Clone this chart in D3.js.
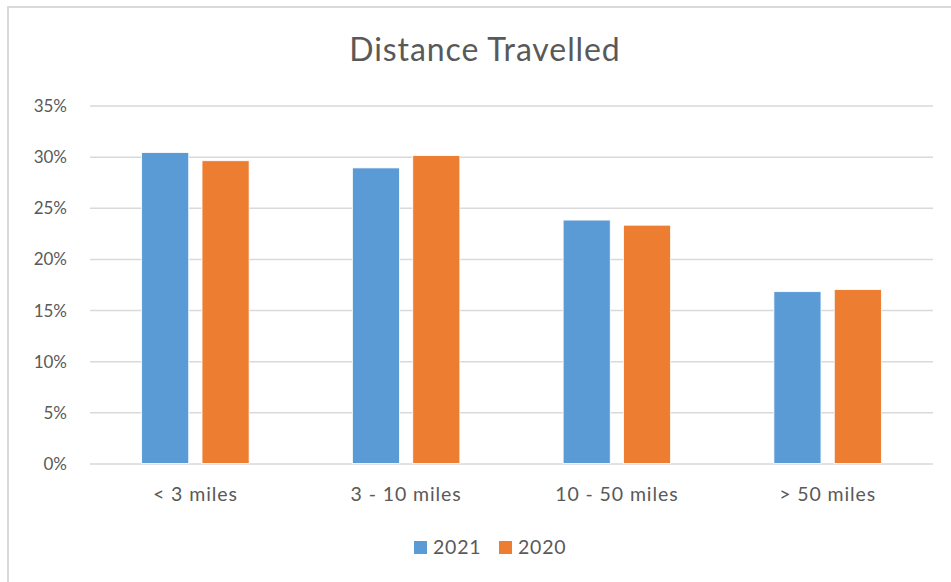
<!DOCTYPE html>
<html>
<head>
<meta charset="utf-8">
<script src="https://cdn.jsdelivr.net/npm/d3@7"></script>
<style>
  body { margin: 0; background: #fff; }
  text { font-family: Lato, "Open Sans", sans-serif; fill: #595959; }
</style>
</head>
<body>
<script>
// chart data
let categories = ["< 3 miles", "3 - 10 miles", "10 - 50 miles", "> 50 miles"];
let seriesNames = ["2021", "2020"];
let values2021 = [30.4, 28.9, 23.8, 16.8];
let values2020 = [29.6, 30.1, 23.3, 17.0];
let yTicks = [0, 5, 10, 15, 20, 25, 30, 35];
let colors = ["#5B9BD5", "#ED7D31"];

let width = 951;
let height = 582;
let margin = { top: 105.5, left: 90, right: 18, bottom: 118.5 };

let svg = d3.select("body")
    .append("svg")
    .attr("width", width)
    .attr("height", height);

// chart frame
svg.append("rect")
    .attr("x", 8).attr("y", 7)
    .attr("width", 1000).attr("height", 1000)
    .attr("fill", "none")
    .attr("stroke", "#d9d9d9")
    .attr("stroke-width", 2);

svg.append("text")
    .attr("x", 485)
    .attr("y", 61)
    .attr("text-anchor", "middle")
    .style("font-size", "32px")
    .style("letter-spacing", "0.9px")
    .text("Distance Travelled");

let x = d3.scaleBand()
    .domain(categories)
    .range([margin.left, width - margin.right]);

let xInner = d3.scaleBand()
    .domain(seriesNames)
    .range([0, x.bandwidth() * 0.51])
    .paddingInner(0.22);

let y = d3.scaleLinear()
    .domain([0, 35])
    .range([height - margin.bottom, margin.top]);

// gridlines
let grid = svg.append("g")
    .call(d3.axisLeft(y)
        .tickValues(yTicks)
        .tickSize(-(width - margin.left - margin.right))
        .tickFormat(d => d + "%"))
    .attr("transform", `translate(${margin.left}, 0)`);

grid.select(".domain").remove();
grid.selectAll(".tick line")
    .attr("stroke", "#d9d9d9")
    .attr("stroke-width", 1.5);
grid.selectAll(".tick text")
    .attr("x", -23)
    .attr("dy", "0.35em")
    .style("font-size", "17px");

let rows = categories.map((c, i) => ({ cat: c, vals: [values2021[i], values2020[i]] }));

let groups = svg.selectAll(".cat")
    .data(rows)
    .enter()
        .append("g")
        .attr("transform", d => `translate(${x(d.cat) + x.bandwidth() * 0.245}, 0)`);

groups.selectAll("rect")
    .data(d => d.vals.map((v, j) => ({ name: seriesNames[j], v: v, j: j })))
    .enter()
        .append("rect")
        .attr("x", d => xInner(d.name))
        .attr("width", xInner.bandwidth())
        .attr("y", d => y(d.v))
        .attr("height", d => y(0) - y(d.v))
        .attr("fill", d => colors[d.j])
        .attr("stroke", "#fff")
        .attr("stroke-width", 0.8);

// category labels
svg.append("g")
    .selectAll("text")
    .data(categories)
    .enter()
        .append("text")
        .attr("x", d => x(d) + x.bandwidth() / 2)
        .attr("y", 501)
        .attr("text-anchor", "middle")
        .style("font-size", "19.5px")
        .style("letter-spacing", "0.9px")
        .text(d => d);

// legend
let legendX = [414, 499];
let legend = svg.append("g")
    .selectAll("g")
    .data(seriesNames)
    .enter()
        .append("g")
        .attr("transform", (d, i) => `translate(${legendX[i]}, 541)`);

legend.append("rect")
    .attr("width", 13)
    .attr("height", 13)
    .attr("fill", (d, i) => colors[i]);

legend.append("text")
    .attr("x", 19)
    .attr("y", 13)
    .style("font-size", "19.5px")
    .style("letter-spacing", "0.8px")
    .text(d => d);
</script>
</body>
</html>
